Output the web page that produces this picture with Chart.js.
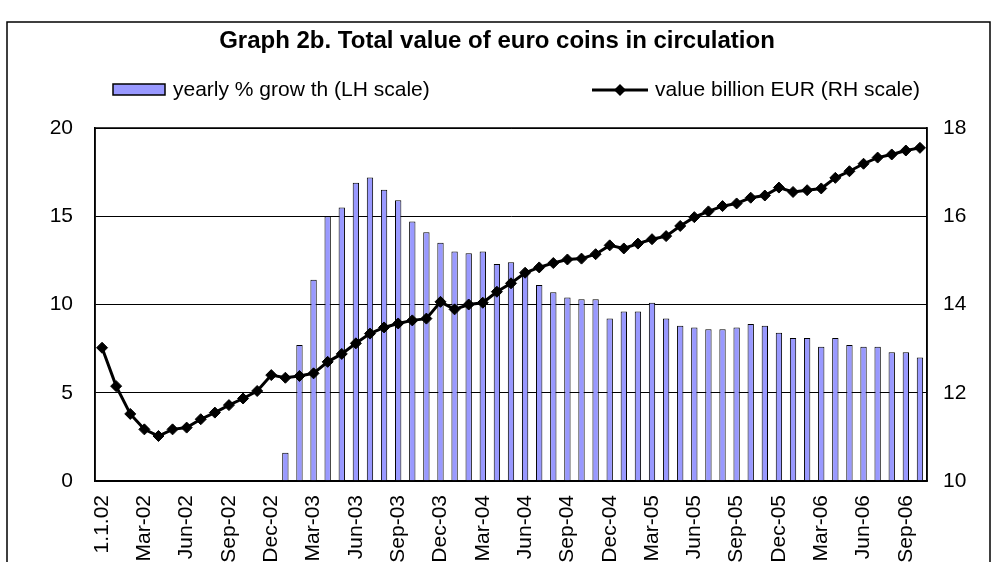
<!DOCTYPE html>
<html>
<head>
<meta charset="utf-8">
<script src="https://cdn.jsdelivr.net/npm/chart.js@4.4.0/dist/chart.umd.min.js"></script>
<style>
  html, body { margin: 0; padding: 0; background: #fff; overflow: hidden; }
  #wrap { width: 994px; height: 640px; }
</style>
</head>
<body>
<div id="wrap"><canvas id="coinsChart" width="994" height="640"></canvas></div>
<script>
// Data
const categories = [
  '1.1.02', 'Jan-02', 'Feb-02', 'Mar-02', 'Apr-02', 'May-02', 'Jun-02', 'Jul-02', 'Aug-02', 'Sep-02', 'Oct-02', 'Nov-02', 'Dec-02',
  'Jan-03', 'Feb-03', 'Mar-03', 'Apr-03', 'May-03', 'Jun-03', 'Jul-03', 'Aug-03', 'Sep-03', 'Oct-03', 'Nov-03', 'Dec-03',
  'Jan-04', 'Feb-04', 'Mar-04', 'Apr-04', 'May-04', 'Jun-04', 'Jul-04', 'Aug-04', 'Sep-04', 'Oct-04', 'Nov-04', 'Dec-04',
  'Jan-05', 'Feb-05', 'Mar-05', 'Apr-05', 'May-05', 'Jun-05', 'Jul-05', 'Aug-05', 'Sep-05', 'Oct-05', 'Nov-05', 'Dec-05',
  'Jan-06', 'Feb-06', 'Mar-06', 'Apr-06', 'May-06', 'Jun-06', 'Jul-06', 'Aug-06', 'Sep-06', 'Oct-06'
];

const yearlyGrowth = [
  null, null, null, null, null, null, null, null, null, null, null, null, null,
  1.6, 7.7, 11.4, 15.0, 15.5, 16.9, 17.2, 16.5, 15.9, 14.7, 14.1, 13.5,
  13.0, 12.9, 13.0, 12.3, 12.4, 11.8, 11.1, 10.7, 10.4, 10.3, 10.3, 9.2,
  9.6, 9.6, 10.1, 9.2, 8.8, 8.7, 8.6, 8.6, 8.7, 8.9, 8.8, 8.4,
  8.1, 8.1, 7.6, 8.1, 7.7, 7.6, 7.6, 7.3, 7.3, 7.0
];

const valueBillion = [
  13.02, 12.15, 11.52, 11.17, 11.02, 11.17, 11.21, 11.40, 11.55, 11.72, 11.87, 12.04, 12.40,
  12.34, 12.38, 12.44, 12.70, 12.88, 13.12, 13.34, 13.48, 13.57, 13.64, 13.68, 14.06,
  13.89, 14.00, 14.04, 14.29, 14.48, 14.72, 14.84, 14.94, 15.02, 15.04, 15.14, 15.34,
  15.27, 15.38, 15.48, 15.55, 15.78, 15.98, 16.11, 16.23, 16.29, 16.42, 16.47, 16.65,
  16.55, 16.59, 16.63, 16.87, 17.02, 17.19, 17.33, 17.40, 17.49, 17.55
];

const leftTicks = [0, 5, 10, 15, 20];
const rightTicks = [10, 12, 14, 16, 18];

const titleText = 'Graph 2b. Total value of euro coins in circulation';
const barLegend = 'yearly % grow th (LH scale)';
const lineLegend = 'value billion EUR (RH scale)';

const FONT = "'Liberation Sans', Arial, sans-serif";
const BAR_COLOR = '#9999ff';

// frame, title, legend and plot border
const decorations = {
  id: 'decorations',
  afterDraw(chart) {
    const ctx = chart.ctx;
    const area = chart.chartArea;
    ctx.save();

    // outer frame
    ctx.strokeStyle = '#000';
    ctx.lineWidth = 1.5;
    ctx.strokeRect(7, 22, 983, 700);

    // plot border
    ctx.strokeRect(area.left, area.top, area.right - area.left, area.bottom - area.top);

    // title
    ctx.fillStyle = '#000';
    ctx.font = 'bold 24px ' + FONT;
    ctx.textAlign = 'center';
    ctx.textBaseline = 'alphabetic';
    ctx.fillText(titleText, 497, 48);

    // legend: bars
    ctx.font = '21px ' + FONT;
    ctx.textAlign = 'left';
    ctx.textBaseline = 'middle';
    ctx.fillStyle = BAR_COLOR;
    ctx.fillRect(113, 84, 52, 11);
    ctx.strokeRect(113, 84, 52, 11);
    ctx.fillStyle = '#000';
    ctx.fillText(barLegend, 173, 90);

    // legend: line with diamond
    ctx.lineWidth = 3;
    ctx.beginPath();
    ctx.moveTo(592, 90);
    ctx.lineTo(648, 90);
    ctx.stroke();
    ctx.beginPath();
    ctx.moveTo(620, 84);
    ctx.lineTo(626, 90);
    ctx.lineTo(620, 96);
    ctx.lineTo(614, 90);
    ctx.closePath();
    ctx.fill();
    ctx.fillText(lineLegend, 655, 90);

    ctx.restore();
  }
};

const ctx = document.getElementById('coinsChart').getContext('2d');

new Chart(ctx, {
  type: 'bar',
  data: {
    labels: categories,
    datasets: [
      {
        type: 'line',
        label: lineLegend,
        data: valueBillion,
        yAxisID: 'y1',
        order: 0,
        borderColor: '#000',
        borderWidth: 3,
        tension: 0,
        pointStyle: 'rectRot',
        pointRadius: 5.5,
        pointBackgroundColor: '#000',
        pointBorderColor: '#000',
        pointBorderWidth: 1
      },
      {
        type: 'bar',
        label: barLegend,
        data: yearlyGrowth,
        yAxisID: 'y',
        order: 1,
        backgroundColor: BAR_COLOR,
        borderColor: '#000',
        borderWidth: 1,
        categoryPercentage: 1,
        barPercentage: 0.45
      }
    ]
  },
  options: {
    responsive: false,
    animation: false,
    layout: { padding: { top: 128, left: 0, right: 0, bottom: 0 } },
    plugins: {
      legend: { display: false },
      title: { display: false },
      tooltip: { enabled: false }
    },
    scales: {
      x: {
        offset: true,
        grid: { display: false, drawTicks: false },
        border: { display: true, color: '#000', width: 1.5 },
        ticks: {
          autoSkip: false,
          maxRotation: 90,
          minRotation: 90,
          padding: 14,
          color: '#000',
          font: { family: FONT, size: 21 },
          callback: (value, index) => (index % 3 === 0 ? categories[index] : '')
        },
        afterFit: (scale) => { scale.height = 640 - 481; }
      },
      y: {
        position: 'left',
        min: leftTicks[0],
        max: leftTicks[leftTicks.length - 1],
        afterBuildTicks: (scale) => { scale.ticks = leftTicks.map(v => ({ value: v })); },
        grid: { color: '#000', lineWidth: 1, drawTicks: false },
        border: { display: true, color: '#000', width: 1.5 },
        ticks: { padding: 22, color: '#000', font: { family: FONT, size: 21 } },
        afterFit: (scale) => { scale.width = 95; }
      },
      y1: {
        position: 'right',
        min: rightTicks[0],
        max: rightTicks[rightTicks.length - 1],
        afterBuildTicks: (scale) => { scale.ticks = rightTicks.map(v => ({ value: v })); },
        grid: { display: false, drawTicks: false },
        border: { display: true, color: '#000', width: 1.5 },
        ticks: { padding: 16, color: '#000', font: { family: FONT, size: 21 } },
        afterFit: (scale) => { scale.width = 994 - 927; }
      }
    }
  },
  plugins: [decorations]
});
</script>
</body>
</html>
